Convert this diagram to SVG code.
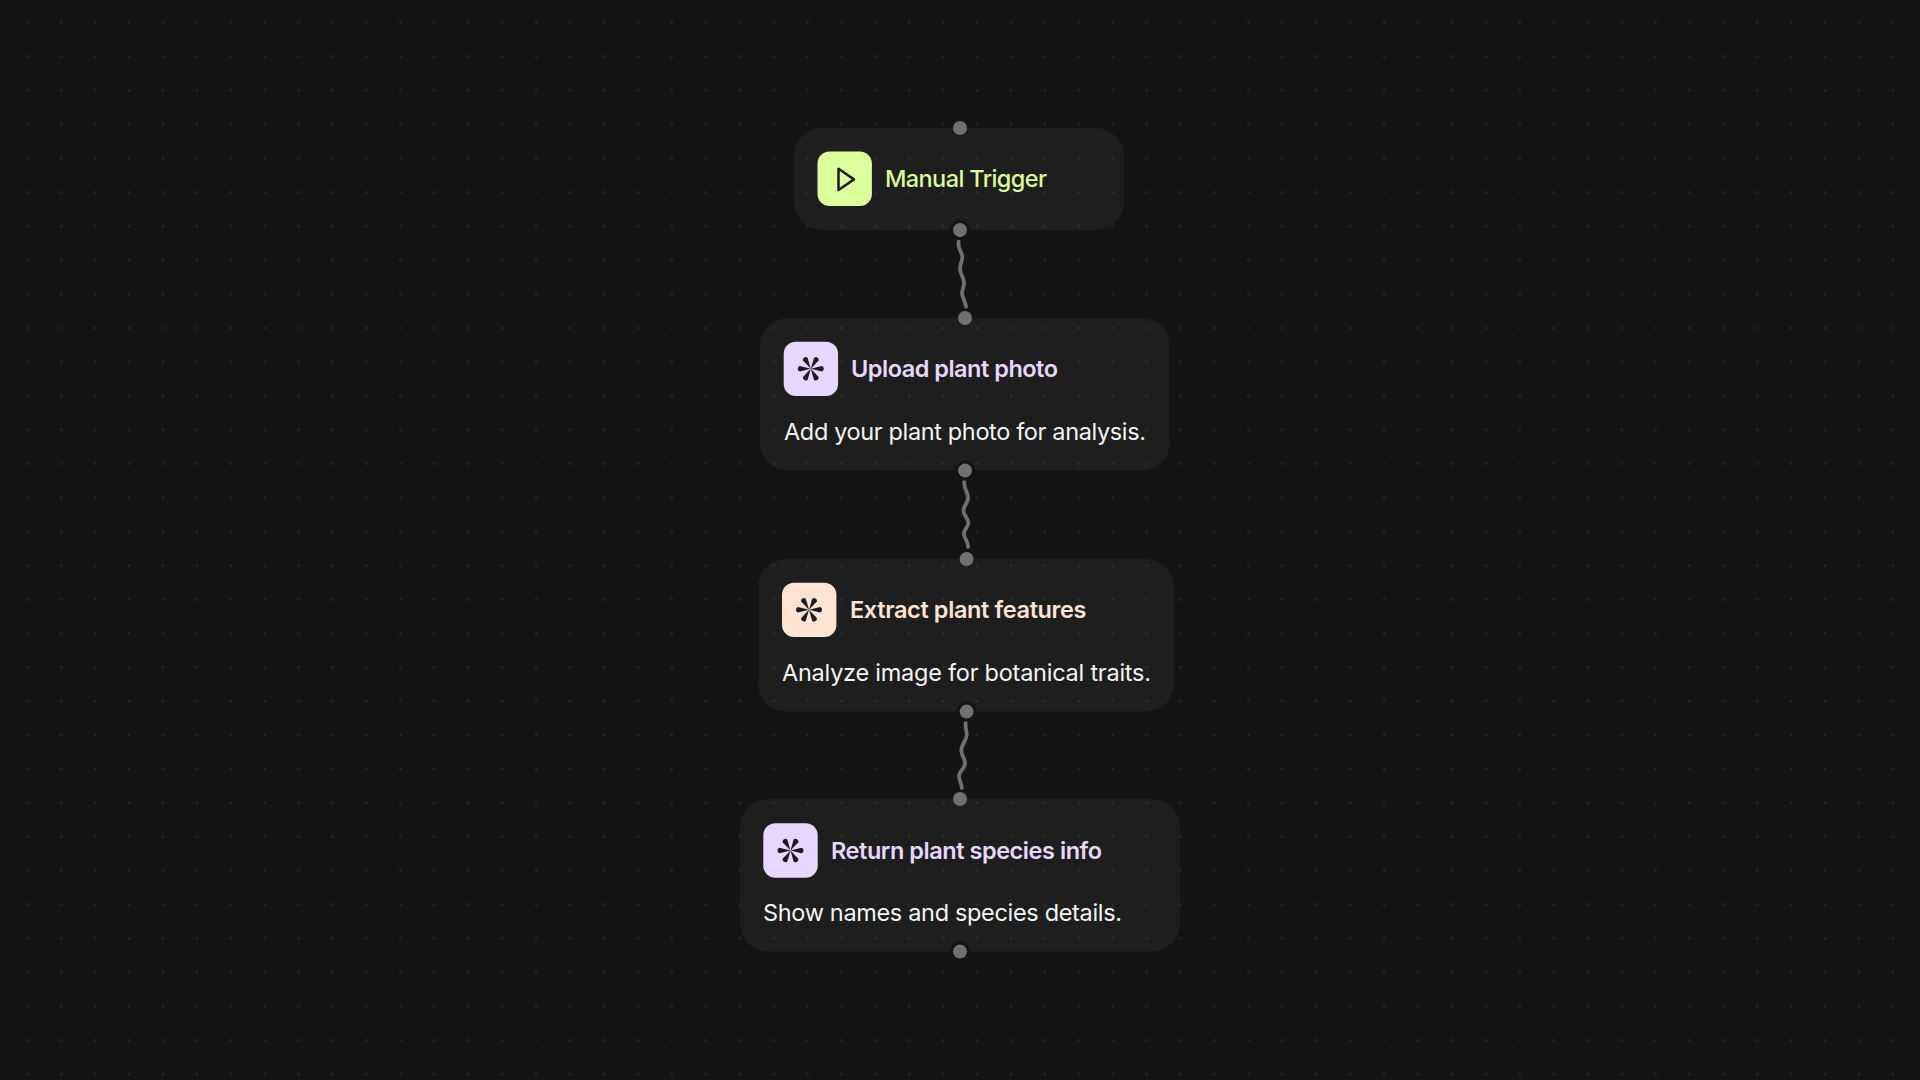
<svg xmlns="http://www.w3.org/2000/svg" width="1920" height="1080" viewBox="0 0 1920 1080">
<style>
.card{fill:#fff;fill-opacity:.042}
.t{font-family:"Inter","Noto Sans",sans-serif;font-size:23.5px;font-weight:600}
.m{font-weight:500}
.d{font-family:"Inter","Noto Sans",sans-serif;font-size:23.5px;font-weight:400;fill:#f4f4f4}
.h{fill:#707070}
.r{fill:#131313}
.w{fill:none;stroke:#707070;stroke-width:3.8;stroke-linecap:round}
</style>
<defs>
<pattern id="dots" width="33.92" height="33.92" patternUnits="userSpaceOnUse" x="10.3" y="5.7">
<circle cx="17" cy="17" r="1.5" fill="#252525"/>
</pattern>
<path id="arm" d="M0 0L-2.7-11A2.8 2.8 0 0 1 2.7-11Z" fill="#1c1a20"/>
<g id="a">
<use href="#arm" transform="rotate(30)"/><use href="#arm" transform="rotate(90)"/><use href="#arm" transform="rotate(150)"/>
<use href="#arm" transform="rotate(210)"/><use href="#arm" transform="rotate(270)"/><use href="#arm" transform="rotate(330)"/>
</g>
</defs>
<rect width="1920" height="1080" fill="#141414"/>
<rect width="1920" height="1080" fill="url(#dots)"/>
<g id="connectors">
<path class="w" d="M958.7 241.7C957 250 963 252 962.3 258C961.5 264 959 266 960.3 271C961.5 276 964.5 279 964 284C963.5 289 961 291 962.5 296C964 300 965.5 303 966 306.7"/>
<path class="w" d="M964.3 481.7C963.5 490 968.5 492 968 498C967.5 504 963.3 506 963.5 511C963.7 516 968.5 518 968.3 523C968 528 963.8 529 964 534C964.2 539 968.3 541 968 547"/>
<path class="w" d="M965.7 722.7C965 728 967 731 966.7 735C966.4 741 961.3 745 961.3 750C961.3 756 965 758 965 763C965 769 959 771 959 776C959 781 962 784 961.7 788"/>
</g>
<g id="node-manual-trigger">
<rect class="card" x="794" y="128" width="330" height="102" rx="28"/>
<rect x="817.5" y="151.5" width="54.4" height="54.4" rx="12" fill="#dcff9b"/>
<path d="M838.5 168.8V190L854 179.4Z" fill="none" stroke="#1c1c1c" stroke-width="2.5" stroke-linejoin="round"/>
<text class="t m" x="885" y="186.5" fill="#dcfb97" textLength="162">Manual Trigger</text>
<circle class="h" cx="960" cy="128" r="7"/>
<circle class="r" cx="960" cy="230" r="10"/><circle class="h" cx="960" cy="230" r="7"/>
</g>
<g id="node-upload">
<rect class="card" x="760" y="318" width="410" height="152.6" rx="28"/>
<rect x="783.7" y="341.7" width="54.4" height="54.4" rx="12" fill="#e7d7ff"/>
<use href="#a" x="810.8" y="368.8"/>
<text class="t" x="851" y="376.5" fill="#e7d7ff" textLength="207">Upload plant photo</text>
<text class="d" x="784" y="440" textLength="362">Add your plant photo for analysis.</text>
<circle class="h" cx="965" cy="318" r="7"/>
<circle class="r" cx="965" cy="470.6" r="10"/><circle class="h" cx="965" cy="470.6" r="7"/>
</g>
<g id="node-extract">
<rect class="card" x="758" y="559" width="416" height="152.6" rx="28"/>
<rect x="782" y="582.7" width="54.4" height="54.4" rx="12" fill="#ffe3d3"/>
<use href="#a" x="809" y="609.8"/>
<text class="t" x="850" y="617.5" fill="#ffe3d3" textLength="236.5">Extract plant features</text>
<text class="d" x="782" y="681" textLength="369">Analyze image for botanical traits.</text>
<circle class="h" cx="966.6" cy="559" r="7"/>
<circle class="r" cx="966.6" cy="711.6" r="10"/><circle class="h" cx="966.6" cy="711.6" r="7"/>
</g>
<g id="node-return">
<rect class="card" x="740" y="799" width="440" height="152.6" rx="28"/>
<rect x="763.3" y="823.3" width="54.4" height="54.4" rx="12" fill="#e7d7ff"/>
<use href="#a" x="790.5" y="850.5"/>
<text class="t" x="831" y="858.5" fill="#e7d7ff" textLength="271">Return plant species info</text>
<text class="d" x="763" y="921" textLength="359">Show names and species details.</text>
<circle class="h" cx="960" cy="799" r="7"/>
<circle class="r" cx="960" cy="951.6" r="10"/><circle class="h" cx="960" cy="951.6" r="7"/>
</g>
</svg>
